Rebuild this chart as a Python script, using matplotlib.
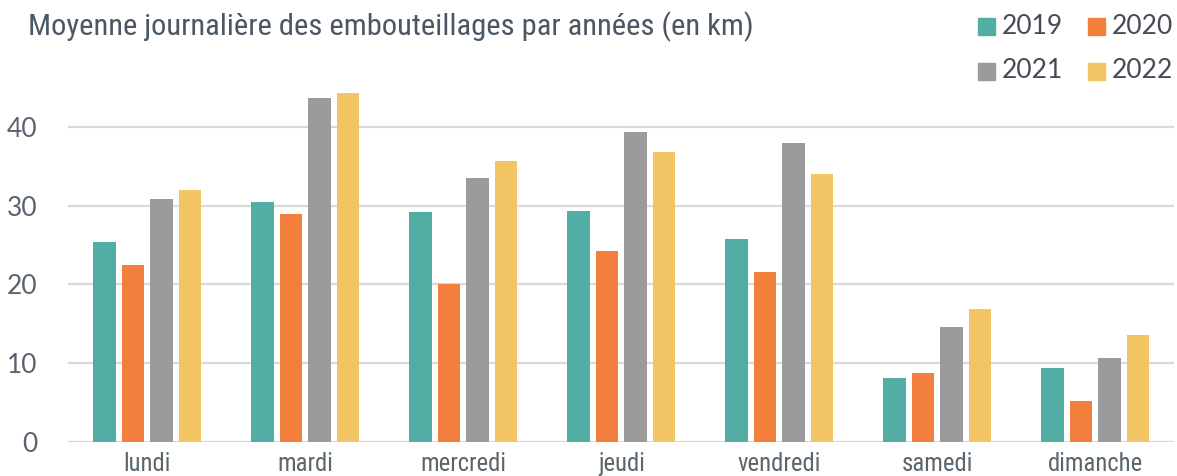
import matplotlib
matplotlib.use("Agg")
import matplotlib.pyplot as plt
from matplotlib import font_manager
from matplotlib.font_manager import FontProperties
from matplotlib.patches import Rectangle
import numpy as np

days = ["lundi", "mardi", "mercredi", "jeudi", "vendredi", "samedi", "dimanche"]
years = ["2019", "2020", "2021", "2022"]
v2019 = [25.4, 30.5, 29.2, 29.3, 25.8, 8.1, 9.4]
v2020 = [22.4, 28.9, 20.0, 24.2, 21.6, 8.7, 5.2]
v2021 = [30.9, 43.6, 33.5, 39.4, 37.9, 14.6, 10.6]
v2022 = [32.0, 44.3, 35.6, 36.8, 34.0, 16.9, 13.6]
series = [v2019, v2020, v2021, v2022]
colors = ["#52ADA5", "#F0803C", "#9B9B9D", "#F2C464"]
yticks = [0, 10, 20, 30, 40]
title = "Moyenne journalière des embouteillages par années (en km)"

# pick a narrow/condensed font if one is installed
narrow_file = None
cands = []
for f in font_manager.fontManager.ttflist:
    fn = f.fname.lower()
    if ("narrow" in fn or "condensed" in fn) and "bold" not in fn and "oblique" not in fn \
            and "italic" not in fn and "light" not in fn and "extra" not in fn.split("/")[-1]:
        cands.append(f.fname)
pref = ["liberationsansnarrow-regular", "robotocondensed-regular", "dejavusanscondensed.ttf",
        "opensans_condensed", "opensanscondensed"]
for p in pref:
    for c in cands:
        if p in c.lower():
            narrow_file = c
            break
    if narrow_file:
        break
if narrow_file is None and cands:
    narrow_file = cands[0]

def nprop(size):
    if narrow_file:
        return FontProperties(fname=narrow_file, size=size)
    return FontProperties(family="Liberation Sans", size=size)

calibri_like = "Lato"
names = {f.name for f in font_manager.fontManager.ttflist}
if calibri_like not in names:
    calibri_like = "Liberation Sans"

fig = plt.figure(figsize=(11.77, 4.76), dpi=100)
ax = fig.add_axes([0.0578, 0.0714, 0.94, 0.745])
renderer = fig.canvas.get_renderer()

def fit_size(text, target_px, start=20):
    t = fig.text(0, 0, text, fontproperties=nprop(start))
    w = t.get_window_extent(renderer).width
    t.remove()
    return start * target_px / w

x = np.arange(len(days))
w = 0.142
pitch = 0.18
for i, (vals, c) in enumerate(zip(series, colors)):
    ax.bar(x + (i - 1.5) * pitch, vals, width=w, color=c, zorder=3, label=years[i])

ax.set_xlim(-0.5, 6.5)
ax.set_ylim(0, 45)
ax.set_yticks(yticks)
ax.set_yticklabels([str(t) for t in yticks], fontsize=19, color="#5A6270",
                   family=[calibri_like, "DejaVu Sans"])
ax.yaxis.grid(True, color="#D9D9D9", linewidth=1.6, zorder=0)
ax.set_axisbelow(True)
for s in ax.spines.values():
    s.set_visible(False)
ax.tick_params(axis="both", length=0)
ax.tick_params(axis="y", pad=22)

xs = fit_size("mercredi", 86)
ax.set_xticks(x)
ax.set_xticklabels(days, fontproperties=nprop(xs), color="#5A666E")
ax.tick_params(axis="x", pad=7)

ts = fit_size(title, 722)
fig.text(28 / 1177, 1 - 35 / 476, title, fontproperties=nprop(ts), color="#4A5866",
         va="baseline", ha="left")

# legend 2x2
W, H = 1177.0, 476.0
pos = [(978, 26), (1088, 26), (978, 71), (1088, 71)]
for (lx, ly), c, lab in zip(pos, colors, years):
    fig.patches.append(Rectangle((lx / W, 1 - (ly + 8.5) / H), 17 / W, 17 / H,
                                 transform=fig.transFigure, color=c, figure=fig))
    fig.text((lx + 24) / W, 1 - ly / H, lab, fontsize=19, color="#454B55",
             family=[calibri_like, "DejaVu Sans"], va="center", ha="left")

fig.savefig("out.png", dpi=100)
